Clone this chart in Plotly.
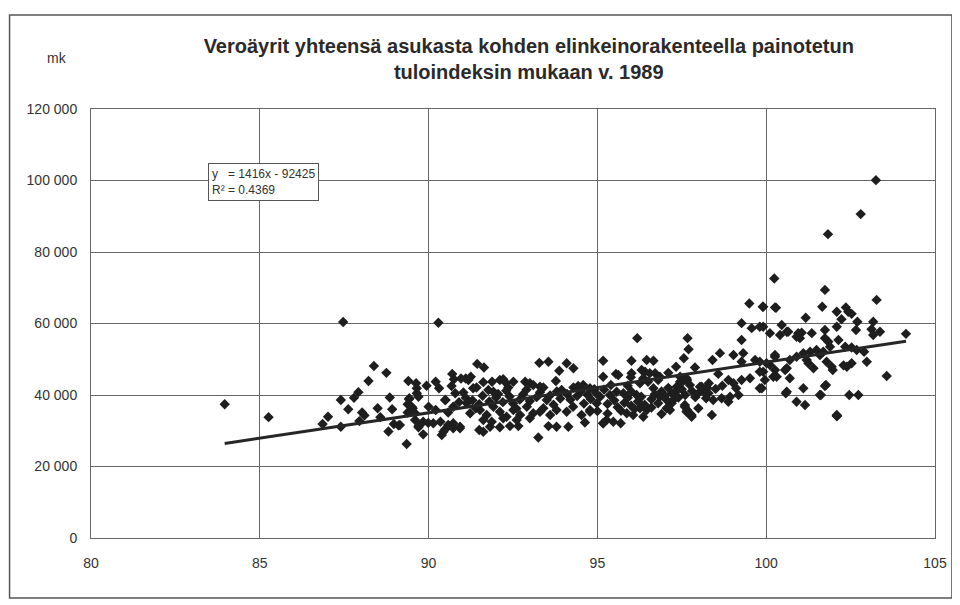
import plotly.graph_objects as go

# ---- data ----
x_vals = [
    83.96, 85.26, 87.47, 88.38, 88.75, 88.22, 87.92, 87.79, 87.40, 88.85, 87.62, 88.49, 88.92, 88.03, 88.10,
    87.02, 88.57, 86.86, 87.40, 87.95, 88.81, 88.97, 89.11,
    89.35, 89.40, 89.63, 89.65, 89.65, 89.42, 89.70, 89.94, 90.21, 90.31, 90.50, 89.38, 89.53, 89.38, 90.00,
    90.21, 89.60, 89.84, 89.99, 90.14, 89.70, 89.84, 90.35, 90.39, 90.49, 90.58, 90.58, 90.29,
    89.43, 89.50, 89.60, 89.15, 89.70, 90.44, 90.73, 90.93,
    90.70, 90.75, 90.68, 90.96, 91.10, 91.18, 91.25, 91.44, 91.64, 90.79, 91.03, 91.32, 91.42, 91.62, 91.88,
    92.11, 92.21, 92.29, 92.36, 92.51, 91.77, 91.92, 92.06, 92.86, 93.00, 93.10, 93.30, 93.40, 93.28, 93.55,
    93.87, 94.09, 94.29, 93.77, 93.94, 94.29, 94.43, 94.58, 94.78, 94.91,
    90.49, 90.73, 91.13, 91.23, 91.52, 91.72, 91.92, 92.11, 92.31, 92.51, 92.71, 92.91, 93.10, 93.40, 93.60,
    93.79, 94.09, 94.28, 94.53, 94.78, 94.98,
    90.90, 91.10, 91.30, 91.50, 91.60, 91.80, 92.00, 92.20, 92.40, 92.50, 92.70, 92.80, 93.00, 93.20, 93.30,
    93.50, 93.60, 93.80, 93.90, 94.10, 94.20, 94.40, 94.50, 94.70, 94.80, 94.95, 92.30, 92.90, 93.70, 94.60,
    91.40, 92.60,
    90.73, 90.93, 91.50, 91.62, 91.82, 92.11, 92.41, 92.66, 93.25, 93.55, 93.79, 94.14, 94.63, 94.78,
    91.62, 91.87, 92.21, 92.61, 93.00, 93.30, 95.17, 95.17, 95.17,
    96.18, 97.67, 97.70, 97.56, 96.01, 96.46, 96.66, 97.33, 97.89, 95.55, 95.62, 95.99, 96.31, 96.41, 96.71,
    96.85, 97.10, 97.45, 97.55, 97.66, 98.04, 98.24, 98.19, 98.22, 98.39, 97.79, 97.59, 97.66, 97.99, 97.30,
    97.20, 97.10, 98.68, 98.88, 98.63, 98.41, 99.03, 99.32, 99.27, 99.67, 99.27, 99.57, 99.91, 99.27, 99.50,
    99.91, 100.26, 98.58, 98.88, 99.03, 99.11, 99.18, 99.27, 99.52, 99.87, 99.91, 100.21, 98.93,
    95.27, 95.47, 95.69, 95.17, 95.87, 96.06, 96.26, 96.46, 96.36,
    96.16, 96.26, 96.36, 96.55, 96.80, 96.66, 96.85, 97.05, 97.20, 97.35, 97.45, 97.64, 97.74, 97.05, 97.15,
    97.25, 95.08, 95.37, 95.57, 95.77, 96.01, 96.01, 97.59, 97.64, 97.79, 98.09, 98.24, 98.29, 98.43,
    95.30, 95.50, 95.60, 95.80, 95.90, 96.00, 96.20, 96.30, 96.40, 96.60, 96.70, 96.80, 96.90, 97.00, 97.10,
    97.30, 97.40, 97.50, 97.60, 97.80, 97.90, 98.00, 98.30, 98.50, 98.70, 95.20, 95.40, 95.90, 96.50, 95.70,
    96.10, 95.30, 95.00, 96.90, 96.60,
    100.24, 101.74, 103.27, 100.29, 101.66, 102.36, 102.43, 102.53, 102.09, 102.23, 101.17, 102.70, 102.66,
    103.17, 103.12, 103.37, 103.17, 104.14,
    100.46, 100.61, 100.95, 101.05, 101.35, 101.74, 102.09, 100.90, 101.00, 100.11, 100.41,
    101.74, 101.84, 102.14, 102.34, 102.53, 102.68, 102.90, 102.98, 102.53, 102.39, 102.29, 101.94, 101.97,
    101.79, 101.40, 101.25, 101.20,
    100.70, 100.90, 101.10, 101.30, 101.49, 101.59, 101.69, 101.89,
    100.26, 100.11, 100.26, 100.61, 100.31, 100.70, 100.58, 101.10, 100.90, 101.15, 101.77, 101.62, 102.09,
    102.46, 102.73, 103.57,
    99.81, 100.65, 99.81, 100.01, 100.26, 100.56, 99.81, 99.96, 99.81, 100.61, 101.59, 101.74, 102.09,
    101.83, 102.80, 103.25, 99.90, 102.10,
]

y_vals = [
    37400, 33800, 60400, 48100, 46200, 43900, 40800, 39200, 38600, 39300, 36000, 36300, 36000, 35100, 34300,
    33900, 33800, 31900, 31100, 32700, 29800, 31900, 31500,
    26300, 43900, 43300, 41900, 40500, 38800, 39500, 42600, 43700, 41900, 38600, 37400, 36300, 35100, 36700,
    35800, 33000, 32500, 32200, 32100, 31000, 29000, 32500, 28800, 30400, 31600, 35100, 60200,
    39100, 36700, 34900, 31600, 31300, 29700, 32100, 30700,
    45900, 44400, 42500, 44600, 44600, 44200, 45100, 48700, 47700, 40500, 40700, 41900, 42100, 43600, 43700,
    44200, 44400, 43400, 42100, 43700, 41400, 40900, 40300, 43700, 43300, 42800, 42300, 42100, 49000, 49300,
    46800, 48900, 47500, 43900, 41400, 42100, 42500, 42800, 41900, 41600,
    38600, 36700, 37700, 34900, 35800, 34400, 36700, 35300, 33900, 35800, 34400, 36700, 34900, 36300, 34400,
    35800, 35300, 36700, 34400, 35800, 37700,
    38000, 39200, 38500, 37400, 39800, 38200, 39300, 38000, 39600, 37600, 38700, 40200, 38300, 39400, 40800,
    38600, 39900, 41000, 39000, 40300, 38700, 39700, 41000, 40100, 38900, 40600, 41200, 41500, 37300, 37600,
    36300, 36200,
    30700, 31100, 30200, 29700, 31100, 31000, 31300, 31300, 28100, 31300, 31100, 31100, 32300, 35300,
    33000, 32500, 33500, 33000, 33500, 35300, 49600, 45100, 32100,
    55900, 55900, 52800, 50300, 49600, 49800, 49600, 47900, 47700, 45900, 45600, 45000, 47000, 46500, 46100,
    45100, 46200, 45100, 44000, 44200, 42300, 42100, 40500, 39100, 34400, 34400, 37200, 35800, 36300, 39500,
    37700, 36300, 39100, 38100, 51700, 49800, 51200, 51700, 49300, 49800, 60100, 58700, 59100, 55400, 65600,
    64700, 64500, 45900, 44200, 43300, 41900, 40000, 44200, 44700, 41900, 46500, 45100, 39500,
    33000, 32500, 32100, 32100, 34900, 34400, 36300, 35800, 33900,
    40000, 43300, 44700, 46100, 44200, 41900, 39500, 38600, 40500, 42300, 43700, 44700, 42800, 36300, 35800,
    38600, 39500, 40000, 40900, 40500, 40900, 46100, 36700, 35300, 33900, 42300, 41900, 40500, 38600,
    37500, 38500, 36600, 37800, 39200, 37000, 38200, 39500, 37300, 38800, 40200, 37700, 41000, 39800, 42000,
    40800, 39300, 41600, 40000, 41100, 39400, 40600, 43300, 41700, 42600, 41500, 42800, 42600, 43700, 35600,
    36100, 34800, 35500, 34700, 36500,
    72600, 69400, 66600, 64400, 64700, 64500, 63300, 62700, 63300, 61200, 61600, 60500, 58200,
    60500, 58400, 57700, 56800, 57100,
    59600, 57700, 57300, 57400, 57300, 58200, 59100, 56300, 55900, 57300, 56800,
    55900, 54900, 55400, 53500, 53300, 52600, 52100, 49300, 48900, 47900, 48300, 47900, 47000,
    49300, 47500, 48900, 49800,
    49800, 50700, 51700, 52100, 52600, 51200, 52100, 53500,
    50700, 48400, 47000, 47500, 45100, 44700, 40500, 41900, 38100, 37200, 42800, 40000, 34400,
    40000, 40000, 45300,
    59100, 57700, 49300, 48900, 51200, 47000, 46500, 44200, 41900, 40900, 40000, 42500, 34100,
    85000, 90600, 100100, 64700, 34100,
]

slope = 1416
intercept = -92425
r_squared = 0.4369

x_ticks = [80, 85, 90, 95, 100, 105]
y_ticks = [0, 20000, 40000, 60000, 80000, 100000, 120000]
y_tick_labels = ["0", "20 000", "40 000", "60 000", "80 000", "100 000", "120 000"]

title_text = "Veroäyrit yhteensä asukasta kohden elinkeinorakenteella painotetun<br>tuloindeksin mukaan v. 1989"
unit_label = "mk"

# ---- figure ----
FONT = "Liberation Sans, Arial, sans-serif"

fig = go.Figure()

fig.add_trace(go.Scatter(
    x=x_vals, y=y_vals, mode="markers",
    marker=dict(symbol="diamond", size=8, color="#1e1e1e", line=dict(width=0)),
    showlegend=False, hoverinfo="x+y",
))

x_min, x_max = min(x_vals), max(x_vals)
fig.add_trace(go.Scatter(
    x=[x_min, x_max], y=[slope * x_min + intercept, slope * x_max + intercept],
    mode="lines", line=dict(color="#262626", width=3),
    showlegend=False, hoverinfo="skip",
))

axis_common = dict(
    showgrid=True, gridcolor="#666666", gridwidth=1,
    showline=True, linecolor="#666666", linewidth=1, mirror=True,
    zeroline=False, ticks="", tickfont=dict(family=FONT, size=14, color="#333333"),
)

fig.update_xaxes(range=[80, 105], tickvals=x_ticks, ticktext=[str(v) for v in x_ticks],
                 ticklabelstandoff=12, **axis_common)
fig.update_yaxes(range=[0, 120000], tickvals=y_ticks, ticktext=y_tick_labels,
                 ticklabelstandoff=10, **axis_common)

fig.update_layout(
    width=952, height=597,
    margin=dict(l=83, r=25, t=101, b=67),
    paper_bgcolor="white", plot_bgcolor="white",
    font=dict(family=FONT, color="#333333"),
    title=dict(
        text=title_text, x=0.547, xanchor="center", y=0.925, yanchor="middle",
        font=dict(family=FONT, size=20, color="#2a2a2a", weight="bold"),
    ),
    annotations=[
        dict(text=unit_label, xref="paper", yref="paper", x=-0.04, y=1.12,
             showarrow=False, xanchor="center", yanchor="middle",
             font=dict(family=FONT, size=14, color="#333333")),
        dict(text="y   = %dx - %d<br>R² = %.4f" % (slope, -intercept, r_squared),
             xref="paper", yref="paper", x=0.139, y=0.873, xanchor="left", yanchor="top",
             showarrow=False, align="left", bordercolor="#555555", borderwidth=1, borderpad=3,
             bgcolor="white", font=dict(family=FONT, size=12, color="#333333")),
    ],
    shapes=[
        dict(type="rect", xref="paper", yref="paper", x0=-0.0965, x1=1.0201, y0=-0.14, y1=1.219,
             line=dict(color="#555555", width=1.5), fillcolor="rgba(0,0,0,0)", layer="below"),
    ],
)

fig.write_html("out.html")
